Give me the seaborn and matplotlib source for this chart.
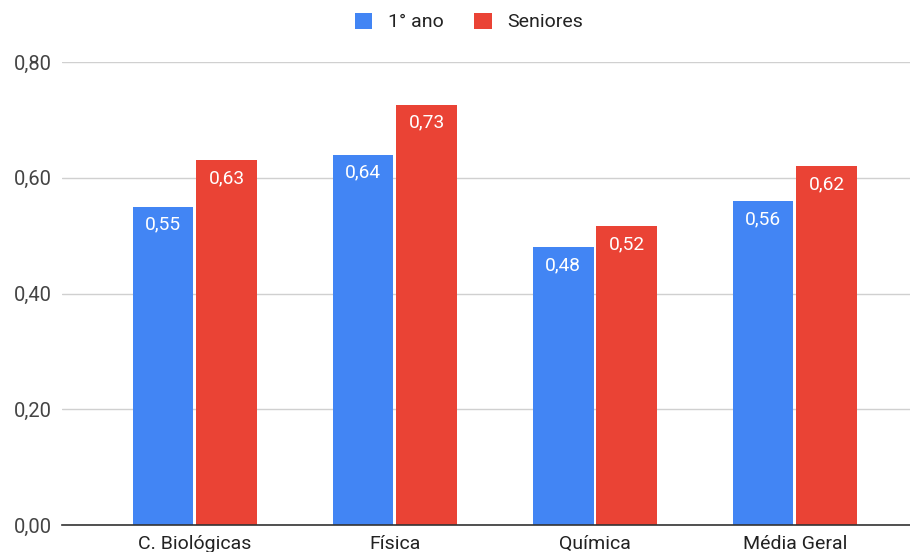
import matplotlib
matplotlib.use("Agg")
import matplotlib.pyplot as plt
import seaborn as sns
import pandas as pd
from matplotlib.patches import Patch

categories = ["C. Biológicas", "Física", "Química", "Média Geral"]
primeiro_ano = [0.55, 0.64, 0.48, 0.56]
seniores = [0.63, 0.726, 0.516, 0.62]
series_names = ["1° ano", "Seniores"]
yticks = [0.0, 0.2, 0.4, 0.6, 0.8]
ytick_labels = ["0,00", "0,20", "0,40", "0,60", "0,80"]

df = pd.DataFrame({
    "cat": categories * 2,
    "serie": [series_names[0]] * 4 + [series_names[1]] * 4,
    "val": primeiro_ano + seniores,
})

sns.set_theme(style="white")
plt.rcParams["font.family"] = ["Roboto", "DejaVu Sans"]

fig = plt.figure(figsize=(9.1, 5.52), dpi=100)
ax = fig.add_axes([62 / 910, 27 / 552, 1 - 62 / 910, (525 - 62) / 552])

palette = {"1° ano": "#4285F4", "Seniores": "#EA4335"}
sns.barplot(data=df, x="cat", y="val", hue="serie", palette=palette,
            width=0.635, ax=ax, legend=False, saturation=1)

gap = 0.015
for p in ax.patches:
    if p.get_width() > 0:
        p.set_x(p.get_x() + gap / 2)
        p.set_width(p.get_width() - gap)
        p.set_edgecolor("none")

for p in ax.patches:
    h = p.get_height()
    if h > 0:
        ax.annotate(f"{h:.2f}".replace(".", ","),
                    (p.get_x() + p.get_width() / 2, h),
                    xytext=(0, -18), textcoords="offset pixels",
                    ha="center", va="center", color="white", fontsize=13.8)

ax.set_xlim(-0.665, 3.575)
ax.set_ylim(0, 0.8)
ax.set_yticks(yticks)
ax.set_yticklabels(ytick_labels)
ax.set_xlabel("")
ax.set_ylabel("")
ax.yaxis.grid(True, color="#d0d0d0", linewidth=1)
ax.set_axisbelow(True)
for s in ["top", "right", "left"]:
    ax.spines[s].set_visible(False)
ax.spines["bottom"].set_color("#333333")
ax.spines["bottom"].set_linewidth(1.2)
ax.tick_params(axis="y", length=0, pad=7, labelsize=14.5, labelcolor="#444444")
ax.tick_params(axis="x", length=0, pad=7, labelsize=14, labelcolor="#222222")

handles = [Patch(facecolor=palette[n], edgecolor="none") for n in series_names]
fig.legend(handles, series_names, loc="center", bbox_to_anchor=(469 / 910, 1 - 22 / 552),
           ncol=2, frameon=False, fontsize=14, handlelength=0.9, handleheight=0.9,
           handletextpad=0.8, columnspacing=1.6, labelcolor="#222222")

fig.savefig("out.png", dpi=100)
